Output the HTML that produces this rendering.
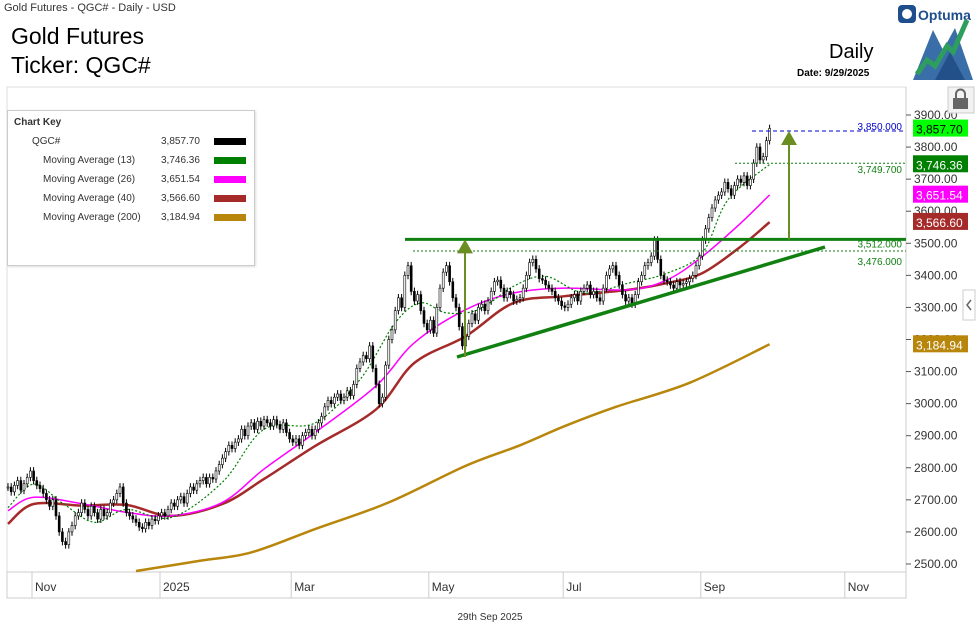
<!DOCTYPE html>
<html><head><meta charset="utf-8"><style>
body{margin:0;width:980px;height:634px;background:#fff;font-family:"Liberation Sans",sans-serif;overflow:hidden;position:relative}
.t{position:absolute;white-space:nowrap}
.k{position:absolute;white-space:nowrap}
</style></head><body>
<div class="t" style="left:4px;top:2px;font-size:11px;color:#333">Gold Futures - QGC# - Daily - USD</div>
<div class="t" style="left:11px;top:22px;font-size:23px;color:#000;line-height:29px">Gold Futures<br>Ticker: QGC#</div>
<div class="t" style="left:829px;top:41px;font-size:20px;color:#000">Daily</div>
<div class="t" style="left:797px;top:68px;font-size:10px;font-weight:bold;color:#000">Date: 9/29/2025</div>
<svg style="position:absolute;left:895px;top:2px" width="85" height="80">
<rect x="3" y="3" width="18" height="18" rx="4" fill="#1f4e8c"/><circle cx="12" cy="12" r="5" fill="#fff"/>
<text x="23" y="18" font-size="14" font-weight="bold" fill="#1f4e8c" font-family="Liberation Sans">Optuma</text>
<polygon points="18,78 38,28 48,48 60,26 78,78" fill="#3a6ea8"/>
<polygon points="40,78 55,50 70,78" fill="#24508a"/>
<polyline points="22,72 32,58 40,64 52,44 58,50 72,18" fill="none" stroke="#2e9e5e" stroke-width="5"/>
</svg>
<svg id="chart" style="position:absolute;left:0;top:0" width="980" height="634"></svg>
<script>
const closes=[2740,2725,2745,2760,2730,2750,2770,2790,2760,2745,
2735,2720,2700,2680,2700,2650,2600,2570,2560,2600,
2620,2650,2660,2690,2670,2650,2680,2660,2640,2670,
2650,2660,2690,2700,2720,2740,2690,2660,2650,2640,
2630,2615,2610,2630,2620,2640,2635,2650,2660,2650,
2670,2690,2680,2700,2710,2690,2720,2740,2730,2750,
2760,2770,2750,2770,2765,2790,2810,2830,2850,2870,
2860,2880,2890,2920,2900,2930,2940,2920,2945,2930,
2950,2940,2930,2950,2935,2920,2940,2910,2890,2880,
2890,2870,2900,2910,2920,2900,2920,2940,2960,2990,
3010,3000,3020,3030,3010,3020,3040,3025,3060,3110,
3130,3150,3140,3180,3110,3060,3000,3020,3120,3200,
3230,3290,3330,3300,3400,3430,3350,3320,3340,3290,
3250,3230,3260,3220,3300,3360,3410,3430,3380,3330,
3300,3240,3180,3210,3250,3280,3260,3300,3310,3290,
3320,3350,3380,3385,3360,3330,3350,3340,3320,3325,
3330,3360,3400,3440,3450,3420,3390,3385,3370,3360,
3350,3330,3320,3305,3300,3310,3330,3340,3320,3350,
3360,3370,3340,3350,3330,3320,3360,3400,3420,3430,
3400,3370,3340,3320,3330,3310,3340,3380,3400,3430,
3440,3460,3510,3450,3400,3385,3380,3370,3360,3380,
3370,3375,3380,3390,3400,3430,3460,3510,3545,3580,
3610,3635,3650,3660,3690,3670,3650,3680,3700,3690,
3710,3680,3700,3750,3800,3760,3770,3820,3858];
const ma13Idx=[0,8,17,27,37,51,67,80,96,110,121,129,137,147,158,168,180,194,206,217,225,238];
const ma13Val=[2676,2749,2690,2630,2670,2645,2755,2920,2940,3075,3252,3314,3283,3293,3366,3397,3345,3376,3407,3470,3636,3746];
const ma26Idx=[0,8,23,37,51,67,80,96,115,127,143,158,174,194,206,217,229,238];
const ma26Val=[2666,2708,2688,2661,2650,2692,2796,2910,3055,3190,3293,3345,3360,3355,3386,3459,3563,3651];
const ma40Idx=[0,8,23,37,51,67,80,96,115,127,143,158,174,194,206,217,229,238];
const ma40Val=[2625,2687,2682,2684,2650,2687,2765,2868,2982,3127,3210,3314,3335,3355,3376,3407,3490,3566];
const ma200Idx=[40,60,76,96,119,143,160,174,190,213,238];
const ma200Val=[2478,2510,2536,2609,2692,2806,2870,2930,2990,3065,3185];
const yTicks=[3900,3800,3700,3600,3500,3400,3300,3200,3100,3000,2900,2800,2700,2600,2500];
const xLabels=["Nov","2025","Mar","May","Jul","Sep","Nov"];
const xLabelIdx=[10,50,91,134,176,219,264];
const NS="http://www.w3.org/2000/svg";
const svg=document.getElementById('chart');
const X=i=>8+i*3.2;
const Y=v=>115+(3900-v)*0.3207;
function mk(tag,a,p){const e=document.createElementNS(NS,tag);for(const k in a)e.setAttribute(k,a[k]);(p||svg).appendChild(e);return e;}
let e=mk('rect',{x:7,y:87,width:899,height:485,fill:'none',stroke:'#ddd'});


mk('line',{x1:906,y1:87,x2:906,y2:598,stroke:'#ccc'});
mk('rect',{x:7,y:572,width:899,height:26,fill:'#fff',stroke:'#ccc'});
xLabels.forEach((l,k)=>{const x=X(xLabelIdx[k])-8;
mk('line',{x1:x,y1:572,x2:x,y2:598,stroke:'#ccc'});
const t=mk('text',{x:x+3,y:591,'font-size':12,fill:'#333'});t.textContent=l;

});
const ft=mk('text',{x:490,y:620,'font-size':10,fill:'#333','text-anchor':'middle'});ft.textContent='29th Sep 2025';
yTicks.forEach(v=>{const y=Y(v);mk('line',{x1:906,y1:y,x2:911,y2:y,stroke:'#555'});
const t=mk('text',{x:914,y:y+4,'font-size':12,fill:'#333'});t.textContent=v.toFixed(2);

});
function smooth(p){let d='M'+p[0][0]+','+p[0][1];for(let k=0;k<p.length-1;k++){const a=p[k-1]||p[k],b=p[k],c=p[k+1],n=p[k+2]||c;
d+=` C${b[0]+(c[0]-a[0])/6},${b[1]+(c[1]-a[1])/6} ${c[0]-(n[0]-b[0])/6},${c[1]-(n[1]-b[1])/6} ${c[0]},${c[1]}`;}return d;}
function line(idx,val,col,w,dash,name){const pts=idx.map((i,k)=>[X(i),Y(val[k])]);
const p=mk('path',{d:smooth(pts),fill:'none',stroke:col,'stroke-width':w,'stroke-dasharray':dash||'none'});

}
line(ma200Idx,ma200Val,'#b8860b',2.5,null,'ma200-line');
line(ma40Idx,ma40Val,'#a52a2a',2.5,null,'ma40-line');
line(ma26Idx,ma26Val,'#ff00ff',1.5,null,'ma26-line');
line(ma13Idx,ma13Val,'#008000',1.2,'2,2','ma13-line');
closes.forEach((c,i)=>{const o=i?closes[i-1]:c;const hi=Math.max(o,c)+12,lo=Math.min(o,c)-12;const x=X(i);
mk('line',{x1:x,y1:Y(hi),x2:x,y2:Y(lo),stroke:'#000','stroke-width':1});
const r=mk('rect',{x:x-1,y:Y(Math.max(o,c)),width:2,height:Math.max(1,Math.abs(Y(o)-Y(c))),fill:c>=o?'#fff':'#000',stroke:'#000','stroke-width':0.6});

});
mk('line',{x1:405,y1:Y(3512),x2:906,y2:Y(3512),stroke:'#108010','stroke-width':3});
mk('line',{x1:413,y1:Y(3476),x2:906,y2:Y(3476),stroke:'#108010','stroke-width':1,'stroke-dasharray':'2,2'});
mk('line',{x1:457,y1:357,x2:825,y2:247,stroke:'#108010','stroke-width':3.5});
mk('line',{x1:752,y1:Y(3850),x2:906,y2:Y(3850),stroke:'#0000cc','stroke-width':1,'stroke-dasharray':'4,3'});
mk('line',{x1:735,y1:Y(3749.7),x2:906,y2:Y(3749.7),stroke:'#108010','stroke-width':1,'stroke-dasharray':'2,2'});
[[465,357,Y(3512)],[789,Y(3512),Y(3850)]].forEach(a=>{mk('line',{x1:a[0],y1:a[1],x2:a[0],y2:a[2]+10,stroke:'#6b8e23','stroke-width':2});
mk('polygon',{points:`${a[0]-8},${a[2]+14} ${a[0]+8},${a[2]+14} ${a[0]},${a[2]}`,fill:'#6b8e23'});});
[['3,850.000',Y(3850)-1,'#0000cc'],['3,749.700',Y(3749.7)+10,'#108010'],['3,512.000',Y(3512)+8,'#108010'],['3,476.000',Y(3476)+14,'#108010']].forEach(a=>{
const t=mk('text',{x:902,y:a[1],'font-size':10,fill:a[2],'text-anchor':'end'});t.textContent=a[0];});
[['3,857.70',3857.7,'#00ff00','#000'],['3,746.36',3746.36,'#008000','#fff'],['3,651.54',3651.54,'#ff00ff','#fff'],['3,566.60',3566.6,'#a52a2a','#fff'],['3,184.94',3184.94,'#b8860b','#fff']].forEach(a=>{
const y=Y(a[1]);const r=mk('rect',{x:913,y:y-9,width:55,height:17,fill:a[2]});


const t=mk('text',{x:916,y:y+5,'font-size':12,fill:a[3]});t.textContent=a[0];});
mk('rect',{x:948,y:87,width:26,height:26,fill:'#f2f2f2',stroke:'#ccc'});
mk('rect',{x:953,y:98,width:15,height:11,fill:'#666'});
mk('path',{d:'M956,98 v-4 a4.5,4.5 0 0 1 9,0 v4',fill:'none',stroke:'#666','stroke-width':2});
mk('rect',{x:963,y:290,width:12,height:30,fill:'#fff',stroke:'#ccc'});
mk('path',{d:'M971,300 l-4,5 l4,5',fill:'none',stroke:'#666','stroke-width':1.5});
</script>
<div style="position:absolute;left:7px;top:110px;width:246px;height:154px;background:#fff;border:1px solid #ccc;box-shadow:1px 1px 2px #ddd;font-size:10px;color:#333">
<div class="k" style="left:6px;top:6px;font-weight:bold">Chart Key</div>
<div class="k" style="left:24px;top:25px">QGC#</div>
<div class="k" style="left:35px;top:44px">Moving Average (13)</div>
<div class="k" style="left:35px;top:63px">Moving Average (26)</div>
<div class="k" style="left:35px;top:82px">Moving Average (40)</div>
<div class="k" style="left:35px;top:101px">Moving Average (200)</div>
<div class="k" style="left:153px;top:25px">3,857.70</div>
<div class="k" style="left:153px;top:44px">3,746.36</div>
<div class="k" style="left:153px;top:63px">3,651.54</div>
<div class="k" style="left:153px;top:82px">3,566.60</div>
<div class="k" style="left:153px;top:101px">3,184.94</div>
<div class="k" style="left:206px;top:27px;width:32px;height:7px;background:#000"></div>
<div class="k" style="left:206px;top:46px;width:32px;height:7px;background:#008000"></div>
<div class="k" style="left:206px;top:65px;width:32px;height:7px;background:#ff00ff"></div>
<div class="k" style="left:206px;top:84px;width:32px;height:7px;background:#a52a2a"></div>
<div class="k" style="left:206px;top:103px;width:32px;height:7px;background:#b8860b"></div>
</div>
</body></html>
